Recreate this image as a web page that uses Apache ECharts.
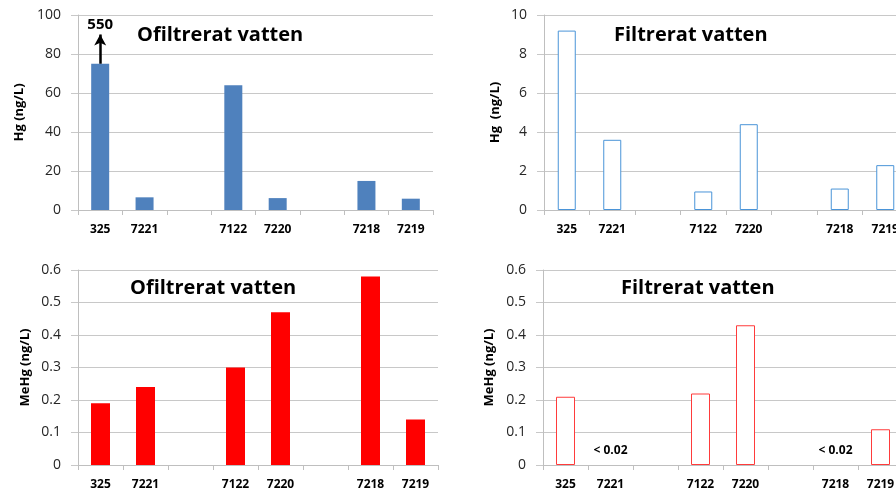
<!DOCTYPE html>
<html>
<head>
<meta charset="utf-8">
<script src="https://cdn.jsdelivr.net/npm/echarts@6/dist/echarts.min.js"></script>
<style>
  html, body { margin: 0; padding: 0; background: #fff; overflow: hidden; }
  /* the canvas is a little wider than the page: the right-hand panels run past its edge */
  #chart { width: 912px; height: 491px; }
</style>
</head>
<body>
<div id="chart"></div>
<script>
// Stations along the x axis; blank entries are the gaps between station groups
const categories = ['325', '7221', '', '7122', '7220', '', '7218', '7219'];

// Total mercury, ng/L
const hgUnfiltered = [550, 6.5, null, 64, 6.1, null, 14.9, 5.8];
const hgFiltered   = [9.2, 3.6, null, 0.95, 4.4, null, 1.1, 2.3];

// Methylmercury, ng/L ('bdl' = below detection limit)
const meHgUnfiltered = [0.19, 0.24, null, 0.30, 0.47, null, 0.58, 0.14];
const meHgFiltered   = [0.21, 'bdl', null, 0.22, 0.43, null, 'bdl', 0.11];
const detectionLimitText = '< 0.02';

// Hg axis scales
const hgAxisMax = 100;
const offScaleCut = 75;      // an off-scale bar is cut at this height
const offScaleArrowTo = 90;  // and an arrow carries its true value above it

const titles = ['Ofiltrerat vatten', 'Filtrerat vatten', 'Ofiltrerat vatten', 'Filtrerat vatten'];

const FONT = '"Open Sans", sans-serif';
const BLUE = '#4f81bd';
const BLUE_LINE = '#4a94d8';
const RED = '#ff0000';
const RED_LINE = '#ff3b3b';
const GRID_COLOR = '#c8c8c8';
const AXIS_COLOR = '#bfbfbf';

const chart = echarts.init(document.getElementById('chart'), null, { renderer: 'canvas' });

const grids = [
  { left: 78,  width: 355, top: 15,  height: 195 },
  { left: 544, width: 364, top: 15,  height: 195 },
  { left: 78,  width: 360, top: 270, height: 196 },
  { left: 543, width: 360, top: 270, height: 196 }
];

function xAxis(i) {
  return {
    type: 'category', gridIndex: i, data: categories,
    axisLine: { lineStyle: { color: AXIS_COLOR } },
    axisTick: { show: true, length: 5, interval: 0, lineStyle: { color: AXIS_COLOR } },
    axisLabel: { interval: 0, margin: 14, fontFamily: FONT, fontSize: 12, fontWeight: 'bold', color: '#000' }
  };
}

function yAxis(i, max, interval, name, nameGap) {
  return {
    type: 'value', gridIndex: i, min: 0, max: max, interval: interval,
    name: name, nameLocation: 'middle', nameRotate: 90, nameGap: nameGap,
    nameTextStyle: { fontFamily: FONT, fontSize: 13, fontWeight: 'bold', color: '#000' },
    axisLine: { show: true, lineStyle: { color: AXIS_COLOR } },
    axisTick: { show: true, length: 7, lineStyle: { color: GRID_COLOR } },
    axisLabel: { margin: 17, fontFamily: FONT, fontSize: 14, color: '#262626' },
    splitLine: { lineStyle: { color: GRID_COLOR } }
  };
}

// Off-scale arrows for the unfiltered Hg panel
const arrowLines = [];
hgUnfiltered.forEach((v, i) => {
  if (v != null && v > hgAxisMax) {
    arrowLines.push([
      { coord: [i, offScaleCut], label: { formatter: String(v) } },
      { coord: [i, offScaleArrowTo] }
    ]);
  }
});

const series = [
  {
    type: 'bar', xAxisIndex: 0, yAxisIndex: 0, barWidth: 18,
    itemStyle: { color: BLUE },
    data: hgUnfiltered.map(v => (v != null && v > hgAxisMax) ? offScaleCut : v),
    markLine: {
      silent: true, symbol: ['none', 'arrow'], symbolSize: [9, 11],
      lineStyle: { color: '#000', width: 2.5, type: 'solid' },
      label: { show: true, position: 'end', distance: 2, fontFamily: FONT, fontSize: 15, fontWeight: 'bold', color: '#000' },
      data: arrowLines
    }
  },
  {
    type: 'bar', xAxisIndex: 1, yAxisIndex: 1, barWidth: 18,
    itemStyle: { color: '#fff', borderColor: BLUE_LINE, borderWidth: 1 },
    data: hgFiltered
  },
  {
    type: 'bar', xAxisIndex: 2, yAxisIndex: 2, barWidth: 19,
    itemStyle: { color: RED },
    data: meHgUnfiltered
  },
  {
    type: 'bar', xAxisIndex: 3, yAxisIndex: 3, barWidth: 19,
    itemStyle: { color: '#fff', borderColor: RED_LINE, borderWidth: 1 },
    data: meHgFiltered.map(v => v === 'bdl'
      ? {
          value: 0,
          itemStyle: { borderWidth: 0 },
          label: { show: true, position: 'top', distance: 8, formatter: detectionLimitText,
                   fontFamily: FONT, fontSize: 12, fontWeight: 'bold', color: '#000' }
        }
      : v)
  }
];

const titlePos = [
  { left: 137, top: 25 },
  { left: 614, top: 25 },
  { left: 130, top: 278 },
  { left: 621, top: 278 }
];

chart.setOption({
  animation: false,
  backgroundColor: '#fff',
  title: titles.map((t, i) => ({
    text: t, left: titlePos[i].left, top: titlePos[i].top, padding: 0,
    textStyle: { fontFamily: FONT, fontSize: 20, fontWeight: 'bold', color: '#000' }
  })),
  grid: grids,
  xAxis: [0, 1, 2, 3].map(xAxis),
  yAxis: [
    yAxis(0, hgAxisMax, 20, 'Hg (ng/L)', 52),
    yAxis(1, 10, 2, 'Hg  (ng/L)', 42),
    yAxis(2, 0.6, 0.1, 'MeHg (ng/L)', 46),
    yAxis(3, 0.6, 0.1, 'MeHg (ng/L)', 47)
  ],
  series: series
});
</script>
</body>
</html>
